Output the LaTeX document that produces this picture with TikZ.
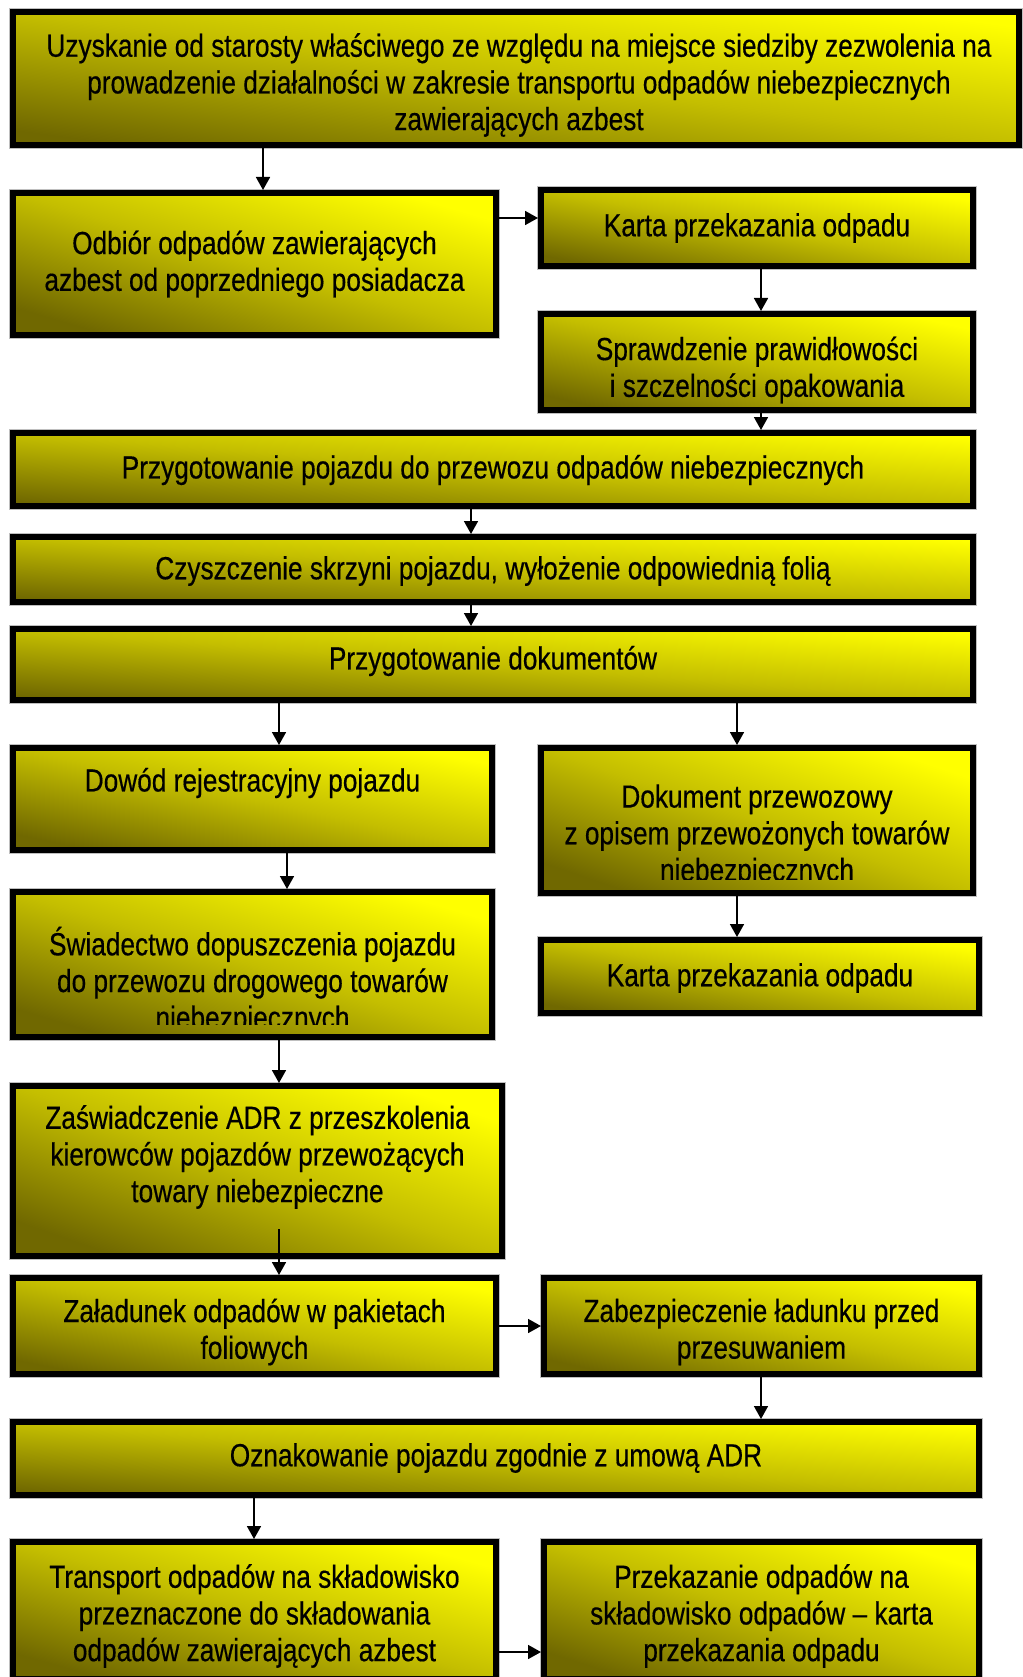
\documentclass[tikz,border=0pt]{standalone}
\usepackage{fontspec}
\setmainfont[FakeStretch=0.82,FakeBold=0.4]{Liberation Sans}
\usetikzlibrary{fit,arrows.meta}
\definecolor{boxdark}{RGB}{112,104,0}
\definecolor{boxmid}{RGB}{196,190,0}
\definecolor{boxlight}{RGB}{255,255,0}
\tikzset{
  flowbox/.style={draw=black, line width=6pt, inner sep=0pt,
    preaction={draw=black!25, line width=7.5pt},
    bottom color=boxdark, top color=boxlight, middle color=boxmid, shading angle=#1},
  txt/.style={font=\fontsize{32}{36.7}\selectfont, align=center, inner sep=0pt},
  arr/.style={draw=black, line width=1.7pt, -{Triangle[length=13pt,width=14pt]}}
}
\begin{document}
\begin{tikzpicture}[x=1pt,y=-1pt]
\useasboundingbox (0,0) rectangle (1022,1677);
% boxes
\node[flowbox=-7.5, fit={(13,12) (1019,145)}] (A) {};
\node[flowbox=-16.4, fit={(13,193) (496,335)}] (B) {};
\node[flowbox=-10, fit={(541,190) (973,266)}] (C) {};
\node[flowbox=-12.5, fit={(541,314) (973,410)}] (D) {};
\node[flowbox=-4.3, fit={(13,433) (973,506)}] (E) {};
\node[flowbox=-3.9, fit={(13,537) (973,602)}] (F) {};
\node[flowbox=-4.2, fit={(13,629) (973,700)}] (G) {};
\node[flowbox=-12, fit={(13,748) (492,850)}] (H) {};
\node[flowbox=-18.6, fit={(541,748) (973,893)}] (I) {};
\node[flowbox=-16.8, fit={(13,892) (492,1037)}] (J) {};
\node[flowbox=-9.5, fit={(541,940) (979,1013)}] (K) {};
\node[flowbox=-19.2, fit={(13,1086) (502,1256)}] (L) {};
\node[flowbox=-11.2, fit={(13,1278) (496,1374)}] (M) {};
\node[flowbox=-12.4, fit={(544,1278) (979,1374)}] (N) {};
\node[flowbox=-4.3, fit={(13,1422) (979,1495)}] (O) {};
\node[flowbox=-15.8, fit={(13,1542) (496,1679)}] (P) {};
\node[flowbox=-17.5, fit={(544,1542) (979,1679)}] (Q) {};
% texts
\node[txt] (tA) at (519,85) {Uzyskanie od starosty właściwego ze względu na miejsce siedziby zezwolenia na\\prowadzenie działalności w zakresie transportu odpadów niebezpiecznych\\zawierających azbest};
\node[txt] (tB) at (254.5,264) {Odbiór odpadów zawierających\\azbest od poprzedniego posiadacza};
\node[txt] (tC) at (757,228) {Karta przekazania odpadu};
\node[txt] (tD) at (757,370) {Sprawdzenie prawidłowości\\i szczelności opakowania};
\node[txt] (tE) at (493,470) {Przygotowanie pojazdu do przewozu odpadów niebezpiecznych};
\node[txt] (tF) at (493,571) {Czyszczenie skrzyni pojazdu, wyłożenie odpowiednią folią};
\node[txt] (tG) at (493,661) {Przygotowanie dokumentów};
\node[txt] (tH) at (252.5,783) {Dowód rejestracyjny pojazdu};
\begin{scope}
\clip (541,748) rectangle (973,879);
\node[txt] (tI) at (757,836) {Dokument przewozowy\\z opisem przewożonych towarów\\niebezpiecznych};
\end{scope}
\begin{scope}
\clip (13,892) rectangle (492,1024);
\node[txt] (tJ) at (252.5,981) {Świadectwo dopuszczenia pojazdu\\do przewozu drogowego towarów\\niebezpiecznych};
\end{scope}
\node[txt] (tK) at (760,978) {Karta przekazania odpadu};
\node[txt] (tL) at (257.5,1157) {Zaświadczenie ADR z przeszkolenia\\kierowców pojazdów przewożących\\towary niebezpieczne};
\node[txt] (tM) at (254.5,1332) {Załadunek odpadów w pakietach\\foliowych};
\node[txt] (tN) at (761.5,1332) {Zabezpieczenie ładunku przed\\przesuwaniem};
\node[txt] (tO) at (496,1458) {Oznakowanie pojazdu zgodnie z umową ADR};
\node[txt] (tP) at (254.5,1616) {Transport odpadów na składowisko\\przeznaczone do składowania\\odpadów zawierających azbest};
\node[txt] (tQ) at (761.5,1616) {Przekazanie odpadów na\\składowisko odpadów – karta\\przekazania odpadu};
% connectors
\coordinate (Lin) at (279,1229);
\draw[arr] (263,0 |- A.south) -- (263,0 |- B.north);
\draw[arr] (B.east |- 0,218) -- (C.west |- 0,218);
\draw[arr] (761,0 |- C.south) -- (761,0 |- D.north);
\draw[arr] (761,0 |- D.south) -- (761,0 |- E.north);
\draw[arr] (471,0 |- E.south) -- (471,0 |- F.north);
\draw[arr] (471,0 |- F.south) -- (471,0 |- G.north);
\draw[arr] (279,0 |- G.south) -- (279,0 |- H.north);
\draw[arr] (737,0 |- G.south) -- (737,0 |- I.north);
\draw[arr] (287,0 |- H.south) -- (287,0 |- J.north);
\draw[arr] (737,0 |- I.south) -- (737,0 |- K.north);
\draw[arr] (279,0 |- J.south) -- (279,0 |- L.north);
\draw[arr] (Lin) -- (Lin |- M.north);
\draw[arr] (M.east |- 0,1326) -- (N.west |- 0,1326);
\draw[arr] (761,0 |- N.south) -- (761,0 |- O.north);
\draw[arr] (254,0 |- O.south) -- (254,0 |- P.north);
\draw[arr] (P.east |- 0,1652) -- (Q.west |- 0,1652);
\end{tikzpicture}
\end{document}
